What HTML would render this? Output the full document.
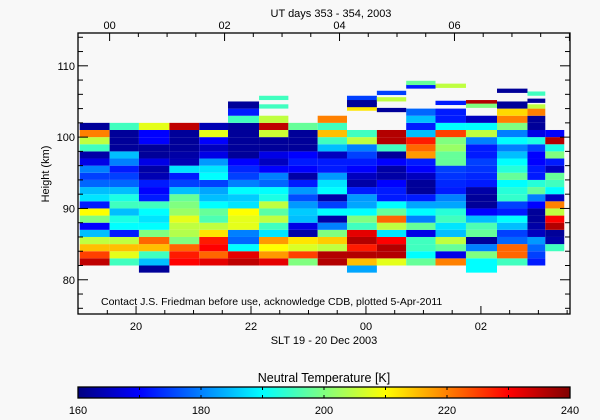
<!DOCTYPE html>
<html><head><meta charset="utf-8"><style>
html,body{margin:0;padding:0;background:#f8f8f8;}
svg{display:block;font-family:"Liberation Sans",sans-serif;}
</style></head><body>
<svg id="chart" width="600" height="420" xmlns="http://www.w3.org/2000/svg">
<rect width="600" height="420" fill="#f8f8f8"/>
<g id="cells"></g>
<g id="axes"></g>
<text x="331" y="17" font-size="11" text-anchor="middle">UT days 353 - 354, 2003</text>
<text x="324" y="344" font-size="11" text-anchor="middle">SLT 19 - 20 Dec 2003</text>
<text transform="translate(49,174) rotate(-90)" font-size="11" text-anchor="middle">Height (km)</text>
<text x="101" y="305" font-size="10.5">Contact J.S. Friedman before use, acknowledge CDB, plotted 5-Apr-2011</text>
<text x="324" y="382" font-size="12.5" text-anchor="middle">Neutral Temperature [K]</text>
<g id="cbar"></g>
</svg>
<script>
// ---- data ----
const colStart = [19.02,19.54,20.05,20.58,21.10,21.60,22.14,22.65,23.16,23.67,24.19,24.70,25.21,25.74,26.28,26.81,27.12];
const colEnd   = [19.54,20.05,20.58,21.10,21.60,22.14,22.65,23.16,23.67,24.19,24.70,25.21,25.74,26.28,26.81,27.12,27.45];
const colBase  = [82,82,81,82,82,82,82,82,82,81,82,82,82,81,82,82,84];
const col01 = [235,225,215,205,185,170,200,210,172,188,185,178,175,180,168,163,195,205,220,162];
const col02 = [195,208,215,205,172,190,192,185,195,192,185,178,175,172,180,185,162,162,162,195];
const col03 = [162,185,195,215,222,200,190,188,190,195,172,170,172,164,163,168,162,162,170,170,208];
const col04 = [230,228,222,200,204,205,208,202,200,198,185,175,172,188,164,163,162,162,162,235];
const col05 = [232,222,230,228,212,205,196,198,190,185,183,175,190,188,182,168,165,170,208,164];
const col06 = [235,232,190,178,180,208,208,210,188,186,190,180,175,173,170,162,162,162,162,162,195,172,162];
const col07 = [232,218,210,218,188,195,205,197,205,192,190,178,180,170,165,168,162,162,206,235,205];
const col08 = [200,225,207,212,163,168,185,186,182,176,182,172,163,170,172,170,162,162,162,198];
const col09 = [236,236,205,214,200,180,163,190,175,163,190,188,182,172,172,165,185,195,215,195,220];
const col10 = [183,215,236,228,236,232,195,200,190,183,182,172,163,165,170,172,175,180,205,195];
const col11 = [208,236,236,230,188,205,222,198,190,172,172,170,163,163,170,162,195,236,236];
const col12 = [198,190,195,195,168,198,180,190,183,172,162,162,165,170,172,218,222,228,185,172,185,178];
const col13 = [220,168,198,205,185,188,195,193,183,180,172,173,174,175,198,198,202,200,225,190,172,172];
const col14 = [190,190,200,180,162,198,196,185,170,162,162,163,172,173,174,175,172,172,180,205,190,165];
const col15 = [195,222,222,178,175,185,190,172,175,194,193,190,198,193,190,185,180,190,180,200,220,213,162];
const col16 = [172,175,178,182,165,163,162,162,170,180,198,193,172,172,170,170,175,192,168,162,162,220];
const col17 = [195,163,162,236,230,205,220,165,190,195,198,165,172,200,192,236,170];
const colValues = [col01,col02,col03,col04,col05,col06,col07,col08,col09,col10,col11,col12,col13,col14,col15,col16,col17];
// isolated cells above the main profiles: [column index, height km, temperature K]
const extraCol = [6,6,9,9,9,9,10,10,10,11,11,12,12,13,13,14,15,15,15];
const extraH   = [104.3,105.5,104.0,104.5,105.0,105.5,103.8,105.3,106.2,107.1,107.6,104.8,107.2,104.9,104.4,106.5,104.3,105.1,106.1];
const extraT   = [195,195,212,162,162,175,162,205,175,172,198,172,205,236,200,162,205,162,195];
const xTickVals = [20,22,24,26];
const xTickLabels = ["20","22","00","02"];
const utTickVals = [0,2,4,6];
const utTickLabels = ["00","02","04","06"];
const yTickVals = [80,90,100,110];
const cbTickVals = [160,180,200,220,240];

// ---- scales ----
const X0=78, X1=570, Y0=33, Y1=314;
const tMin=18.99, tMax=27.55, hMin=75.2, hMax=114.6;
const UT_OFFSET=19.54;
const xs = t => X0 + (t-tMin)/(tMax-tMin)*(X1-X0);
const ys = h => Y1 - (h-hMin)/(hMax-hMin)*(Y1-Y0);
const vMin=160, vMax=240;
function jet(v){
  let x=Math.max(0,Math.min(1,(v-vMin)/(vMax-vMin)));
  const f=a=>Math.round(255*Math.max(0,Math.min(1,a)));
  return `rgb(${f(1.5-Math.abs(4*x-3))},${f(1.5-Math.abs(4*x-2))},${f(1.5-Math.abs(4*x-1))})`;
}
const NS="http://www.w3.org/2000/svg";
function mk(tag,attrs,parent){const e=document.createElementNS(NS,tag);for(const k in attrs)e.setAttribute(k,attrs[k]);parent.appendChild(e);return e;}

const cells=document.getElementById('cells');
colValues.forEach((vals,ci)=>{
  const xa=xs(colStart[ci]), xb=xs(colEnd[ci]);
  vals.forEach((v,i)=>{
    const h=colBase[ci]+i;
    const r=mk('rect',{x:xa,y:ys(h+1),width:xb-xa,height:ys(h)-ys(h+1),fill:jet(v)},cells);
    
    
  });
});
extraH.forEach((h,i)=>{
  const ci=extraCol[i];
  const xa=xs(colStart[ci]), xb=xs(colEnd[ci]);
  const r=mk('rect',{x:xa,y:ys(h+0.3),width:xb-xa,height:ys(h-0.3)-ys(h+0.3),fill:jet(extraT[i])},cells);
  
  
});

// ---- axes ----
const ax=document.getElementById('axes');
const fr=mk('rect',{x:X0,y:Y0,width:X1-X0,height:Y1-Y0,fill:'none',stroke:'#000','stroke-width':1.3},ax);


for(let t=19.5;t<tMax;t+=0.5){
  const major=Math.abs(t/2-Math.round(t/2))<1e-6;
  const len=major?8:4;
  mk('line',{x1:xs(t),x2:xs(t),y1:Y1,y2:Y1-len,stroke:'#000'},ax);
}
for(let u=0;u+UT_OFFSET<tMax;u+=0.5){
  const t=u+UT_OFFSET; if(t<tMin) continue;
  const major=Math.abs(u/2-Math.round(u/2))<1e-6;
  mk('line',{x1:xs(t),x2:xs(t),y1:Y0,y2:Y0+(major?8:4),stroke:'#000'},ax);
}
for(let h=76;h<hMax;h+=2){
  const major=h%10===0;
  const len=major?10:5;
  mk('line',{x1:X0,x2:X0+len,y1:ys(h),y2:ys(h),stroke:'#000'},ax);
  mk('line',{x1:X1,x2:X1-len,y1:ys(h),y2:ys(h),stroke:'#000'},ax);
}
xTickVals.forEach((t,i)=>{
  const tx=mk('text',{x:xs(t),y:330,'font-size':11,'text-anchor':'middle'},ax);
  tx.textContent=xTickLabels[i];
  
  
});
utTickVals.forEach((u,i)=>{
  const tx=mk('text',{x:xs(u+UT_OFFSET),y:29,'font-size':11,'text-anchor':'middle'},ax);
  tx.textContent=utTickLabels[i];
  
  
});
yTickVals.forEach(h=>{
  const tx=mk('text',{x:X0-3,y:ys(h)+4,'font-size':11,'text-anchor':'end'},ax);
  tx.textContent=String(h);
  
  
});

// ---- colorbar ----
const cb=document.getElementById('cbar');
const CX0=78,CX1=570,CY0=387,CY1=398;
const cs=v=>CX0+(v-vMin)/(vMax-vMin)*(CX1-CX0);
const defs=mk('defs',{},cb);
const grad=mk('linearGradient',{id:'jetg',x1:0,x2:1,y1:0,y2:0},defs);
for(let k=0;k<=16;k++){const v=vMin+(vMax-vMin)*k/16;mk('stop',{offset:k/16,'stop-color':jet(v)},grad);}
mk('rect',{x:CX0,y:CY0,width:CX1-CX0,height:CY1-CY0,fill:'url(#jetg)',stroke:'#000','stroke-width':1.3},cb);
for(let v=170;v<vMax;v+=10){
  mk('line',{x1:cs(v),x2:cs(v),y1:CY0,y2:CY0+3,stroke:'#000'},cb);
  mk('line',{x1:cs(v),x2:cs(v),y1:CY1,y2:CY1-3,stroke:'#000'},cb);
}
cbTickVals.forEach(v=>{
  const tx=mk('text',{x:cs(v),y:414,'font-size':11,'text-anchor':'middle'},cb);
  tx.textContent=String(v);
  
  
});
</script>
</body></html>
